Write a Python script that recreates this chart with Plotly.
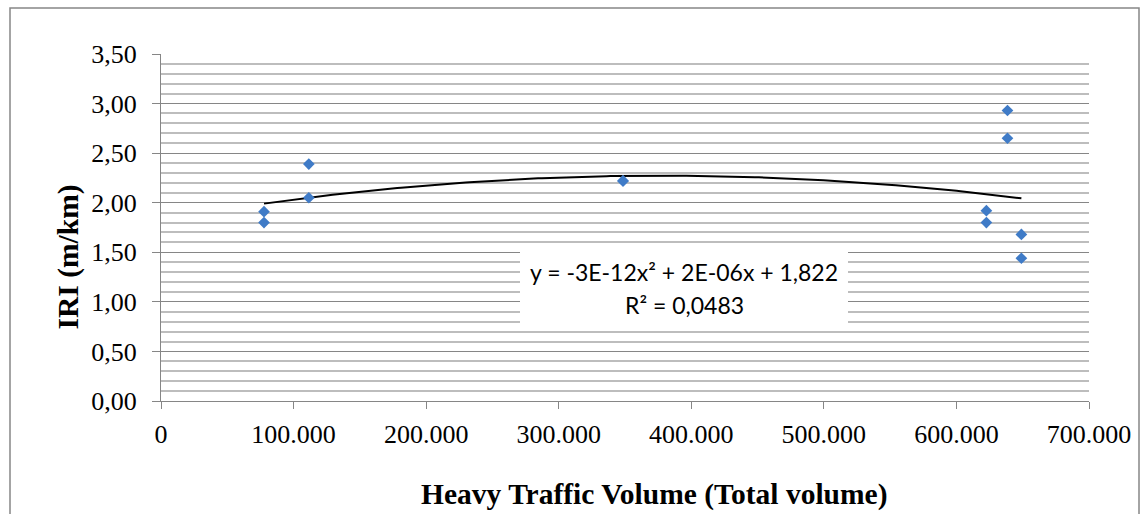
import numpy as np
import plotly.graph_objects as go

# Data (the marker at ~348.500 holds two overlapping points)
traffic_volume = [77700, 77700, 111500, 111500, 348500, 348500, 622600, 622600, 638500, 638500, 649000, 649000]
iri_values = [1.91, 1.80, 2.39, 2.05, 2.22, 2.22, 1.92, 1.80, 2.93, 2.65, 1.68, 1.44]
equation_lines = ["y = -3E-12x² + 2E-06x + 1,822", "R² = 0,0483"]
x_title = "Heavy Traffic Volume (Total volume)"
y_title = "IRI (m/km)"

# Polynomial (order 2) trendline fitted to the data, as in the original spreadsheet
coef = np.polyfit(traffic_volume, iri_values, 2)
trend_x = np.linspace(min(traffic_volume), max(traffic_volume), 200)
trend_y = np.polyval(coef, trend_x)

fig = go.Figure()
fig.add_trace(go.Scatter(
    x=trend_x, y=trend_y, mode="lines",
    line=dict(color="black", width=2), hoverinfo="skip", showlegend=False))
fig.add_trace(go.Scatter(
    x=traffic_volume, y=iri_values, mode="markers",
    marker=dict(symbol="diamond", size=9, color="#3F7BC7", line=dict(width=0)),
    showlegend=False))

W, H = 1140, 514
L, R, T, B = 161, 51, 54, 113
PW, PH = W - L - R, H - T - B


def px(x):
    return (x - L) / PW


def py(y):
    return (H - B - y) / PH


fig.update_layout(
    width=W, height=H,
    margin=dict(l=L, r=R, t=T, b=B, autoexpand=False),
    paper_bgcolor="white", plot_bgcolor="white",
    separators=",.",
    font=dict(family="Liberation Serif, Times New Roman, serif", color="black", size=26),
    xaxis=dict(
        range=[0, 700000], tickmode="linear", tick0=0, dtick=100000,
        tickformat=",d", showgrid=False, zeroline=False, automargin=False,
        showline=True, linecolor="#868686", linewidth=1,
        ticks="outside", ticklen=7, tickcolor="#868686", tickwidth=1,
        tickfont=dict(size=26), ticklabelstandoff=3,
    ),
    yaxis=dict(
        range=[0, 3.5], tickmode="linear", tick0=0, dtick=0.5,
        tickformat=".2f", showgrid=True, gridcolor="#868686", gridwidth=1,
        minor=dict(dtick=0.1, showgrid=True, gridcolor="#BDBDBD", gridwidth=1.5, ticks=""),
        zeroline=False, automargin=False,
        showline=True, linecolor="#868686", linewidth=1,
        ticks="outside", ticklen=8, tickcolor="#868686", tickwidth=1,
        tickfont=dict(size=26), ticklabelstandoff=10,
    ),
)

# axis titles
fig.add_annotation(x=px(654.5), y=py(494), xref="paper", yref="paper",
                   text="<b>" + x_title + "</b>", showarrow=False,
                   font=dict(size=29.5), xanchor="center", yanchor="middle")
fig.add_annotation(x=px(68), y=py(257.5), xref="paper", yref="paper",
                   text="<b>" + y_title + "</b>", showarrow=False, textangle=-90,
                   font=dict(size=29.5), xanchor="center", yanchor="middle")

# equation label box (white background covering grid lines)
fig.add_annotation(x=px(684), y=py(287), xref="paper", yref="paper",
                   text=" ", showarrow=False, bgcolor="white",
                   width=328, height=86, borderpad=0, borderwidth=0,
                   xanchor="center", yanchor="middle")
for line_text, yc in zip(equation_lines, [272, 305]):
    fig.add_annotation(x=px(684), y=py(yc), xref="paper", yref="paper",
                       text=line_text, showarrow=False,
                       font=dict(family="Lato, Carlito, Calibri, sans-serif", size=23, color="black"),
                       xanchor="center", yanchor="middle")

# outer chart border
fig.add_shape(type="rect", xref="paper", yref="paper",
              x0=px(10), x1=px(1139), y0=py(520), y1=py(8),
              line=dict(color="#868686", width=1.5), fillcolor="rgba(0,0,0,0)", layer="above")

fig.write_html("out.html")
